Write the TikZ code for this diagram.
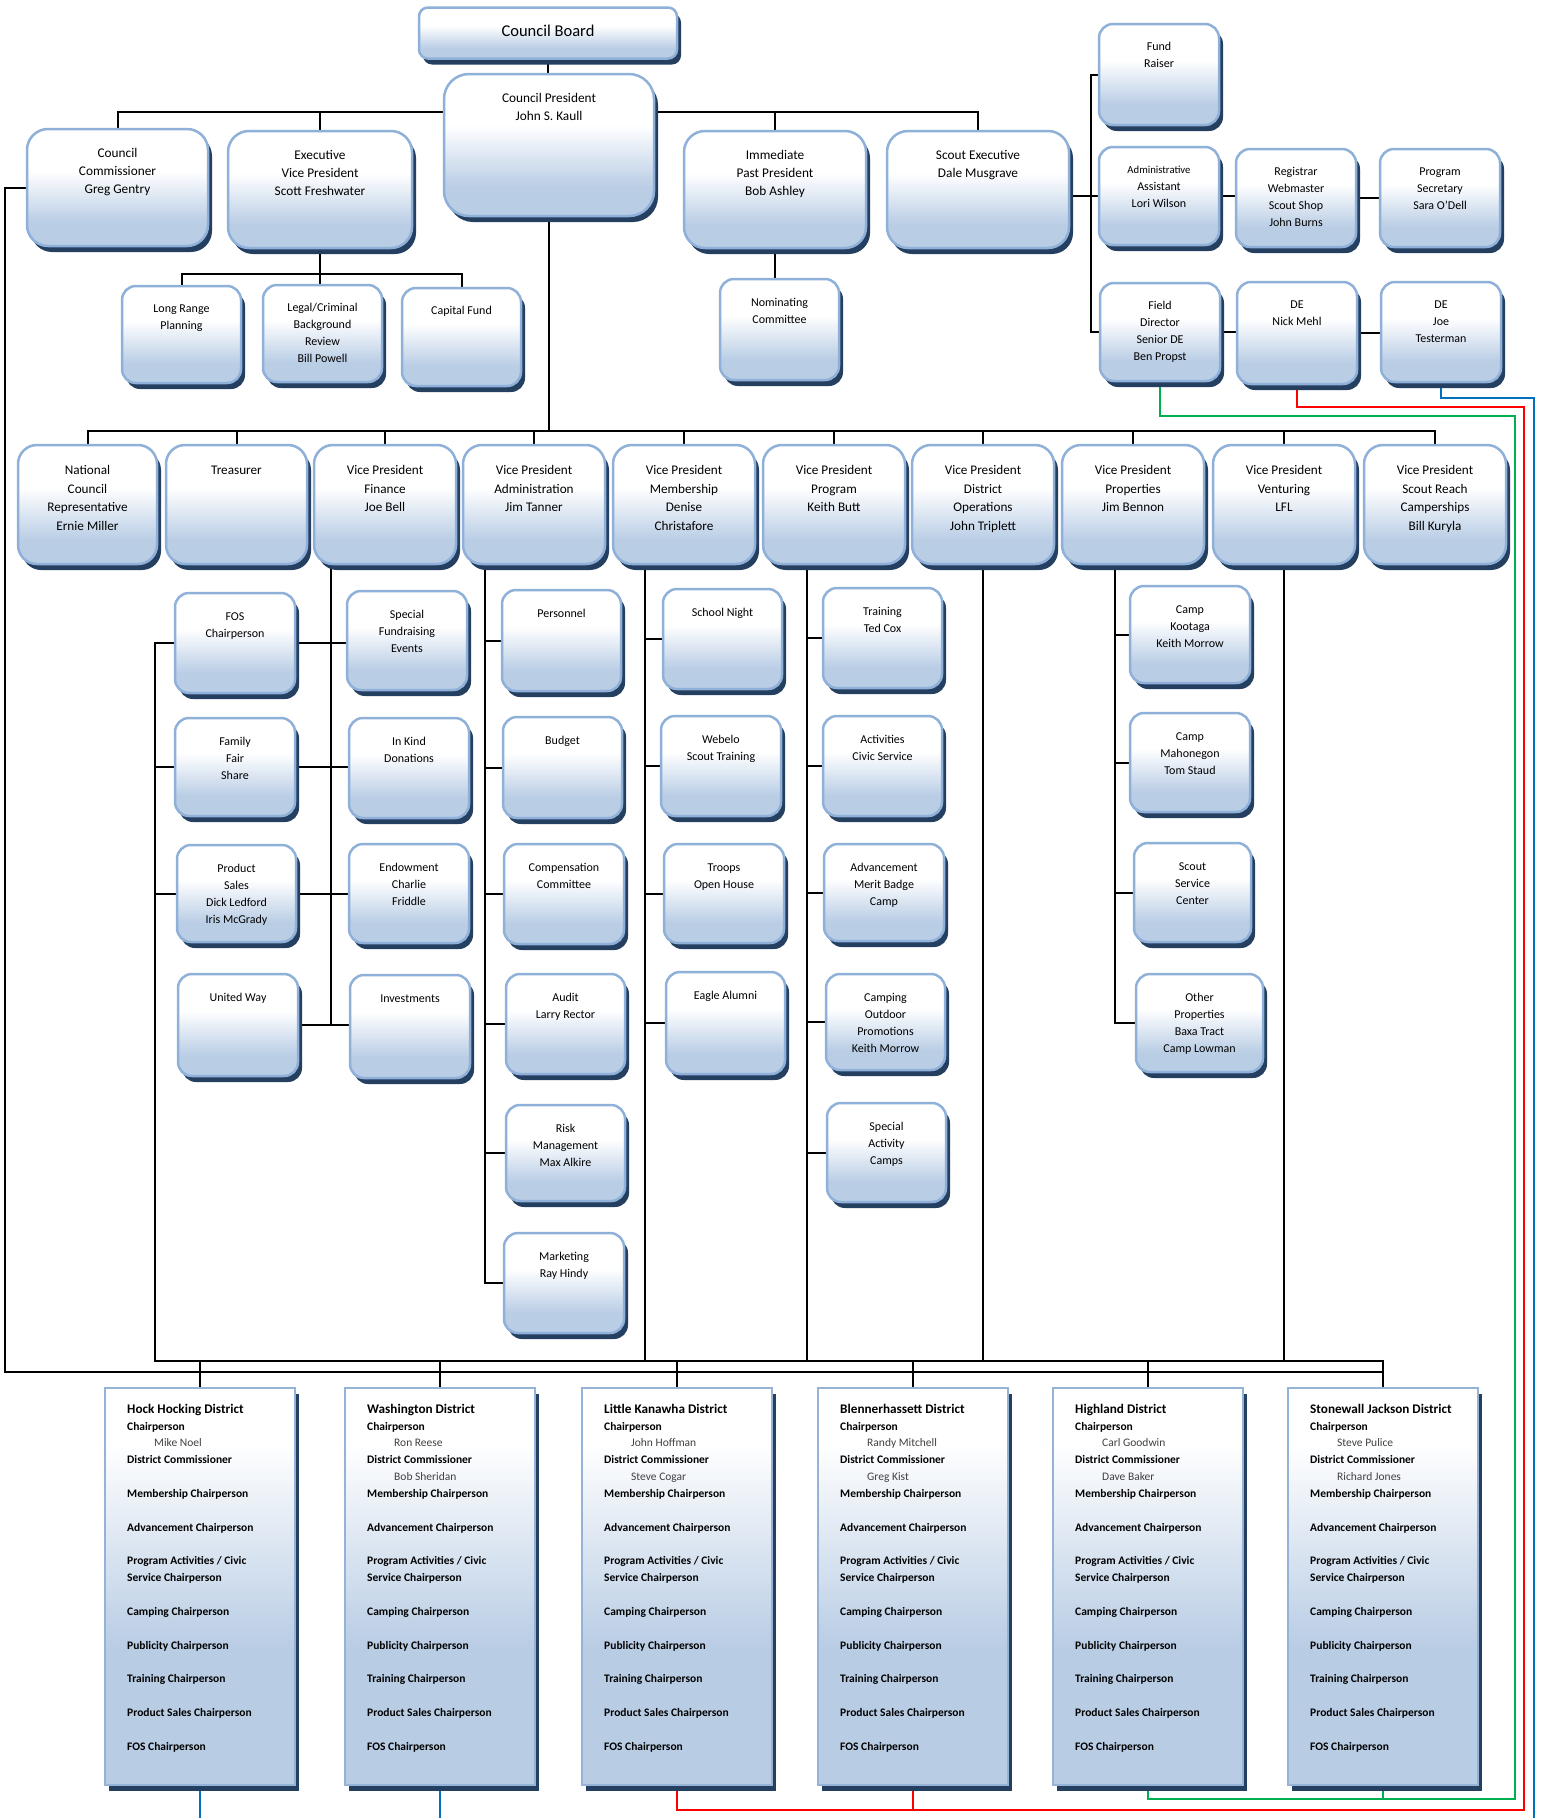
\documentclass[tikz,border=0pt]{standalone}
\usepackage{fontspec}
\setmainfont{Carlito}
\usetikzlibrary{shadows}
\pgfdeclarelayer{bg}
\pgfsetlayers{bg,main}
\definecolor{bordc}{HTML}{8FB0D9}
\definecolor{fillb}{HTML}{B9CDE5}
\definecolor{shadc}{HTML}{243F60}
\definecolor{dfill}{HTML}{B8CCE4}
\definecolor{dbord}{HTML}{95B3D7}
\definecolor{gcol}{HTML}{00B050}
\definecolor{rcol}{HTML}{FF0000}
\definecolor{bcol}{HTML}{0070C0}
\definecolor{namec}{HTML}{404040}
\pgfdeclareverticalshading{obshade}{100bp}{color(0bp)=(fillb); color(35bp)=(fillb); color(57bp)=(white); color(100bp)=(white)}
\pgfdeclareverticalshading{dshade}{100bp}{color(0bp)=(dfill); color(42bp)=(dfill); color(68bp)=(white); color(100bp)=(white)}
\tikzset{
  obox/.style={draw=bordc, line width=2.5pt, rounded corners=14pt, shading=obshade, inner sep=0pt, outer sep=0pt,
    drop shadow={shadow xshift=4pt, shadow yshift=-6pt, fill=shadc, opacity=1}},
  bigbox/.style={rounded corners=21pt},
  vpbox/.style={rounded corners=19pt},
  dbox/.style={draw=dbord, line width=2.5pt, shading=dshade, inner sep=0pt, outer sep=0pt,
    minimum width=190pt, minimum height=397pt,
    drop shadow={shadow xshift=4pt, shadow yshift=-6pt, fill=shadc, opacity=1}},
  otext/.style={anchor=north, align=center, inner sep=0pt, yshift=-15.1pt, font=\fontsize{12}{17}\selectfont},
  rtext/.style={otext, yshift=1pt},
  vtext/.style={anchor=north, align=center, inner sep=0pt, yshift=-16.55pt, font=\fontsize{13.2}{18.5}\selectfont},
  ttext/.style={anchor=north, align=center, inner sep=0pt, yshift=-15.9pt, font=\fontsize{13.3}{18}\selectfont},
  dtext/.style={anchor=north west, align=left, inner sep=0pt, yshift=-13.2pt, font=\fontsize{11.5}{16.85}\selectfont\bfseries},
  conn/.style={line width=2pt, black},
  glstyle/.style={line width=1.6pt, gcol},
  rlstyle/.style={line width=1.6pt, rcol},
  blstyle/.style={line width=1.6pt, bcol}
}
\newcommand{\ob}[8][]{%
  \node[obox,#1,minimum width={(#5-#3-2)*1pt},minimum height={(#6-#4-4)*1pt}] (#2) at ({(#3+#5-2)/2},{(#4+#6-4)/2}) {};
  \node[#7] (#2t) at ({(#3+#5-2)/2},#4) {\strut #8};
}
\newcommand{\nm}[1]{\hspace*{27pt}{\mdseries\color{namec}#1}}
\newcommand{\dist}[5]{%
  \node[dbox] (#1) at ({#2+95},1586.5) {};
  \node[dtext] (#1t) at ({#2+22},1388) {\strut{\fontsize{13.2}{16.85}\selectfont #3}\\Chairperson\\\nm{#4}\\District Commissioner\\\nm{#5}\\Membership Chairperson\\[16.85pt]Advancement Chairperson\\[16.85pt]Program Activities / Civic\\Service Chairperson\\[16.85pt]Camping Chairperson\\[16.85pt]Publicity Chairperson\\[16.85pt]Training Chairperson\\[16.85pt]Product Sales Chairperson\\[16.85pt]FOS Chairperson};
}
\begin{document}
\begin{tikzpicture}[x=1pt,y=-1pt]
\useasboundingbox (0,0) rectangle (1543,1818);
% top
\node[obox, rounded corners=9pt, minimum width=258pt, minimum height=51pt] (cb) at (548,33) {};
\node[anchor=base, inner sep=0pt, font=\fontsize{16.5}{20}\selectfont] (cbt) at (548,36) {Council Board};
\ob[rounded corners=25pt]{cp}{444}{74}{656}{220}{ttext}{Council President\\John S. Kaull}
\ob[bigbox]{cc}{27}{129}{210}{250}{ttext}{Council\\Commissioner\\Greg Gentry}
\ob[bigbox]{evp}{228}{131}{414}{252}{ttext}{Executive\\Vice President\\Scott Freshwater}
\ob[bigbox]{ipp}{684}{131}{868}{252}{ttext}{Immediate\\Past President\\Bob Ashley}
\ob[bigbox]{sx}{887}{131}{1071}{252}{ttext}{Scout Executive\\Dale Musgrave}
\ob{lrp}{122}{286}{243}{387}{rtext}{Long Range\\Planning}
\ob{lcb}{263}{285}{384}{386}{rtext}{Legal/Criminal\\Background\\Review\\Bill Powell}
\ob{cap}{402}{288}{523}{390}{rtext}{Capital Fund}
\ob{nom}{720}{279}{841}{384}{otext}{Nominating\\Committee}
% right cluster
\ob{fr}{1099}{24}{1221}{129}{rtext}{Fund\\Raiser}
\ob{aa}{1099}{147}{1221}{249}{rtext}{{\fontsize{10.7}{17}\selectfont Administrative}\\Assistant\\Lori Wilson}
\ob{reg}{1236}{149}{1358}{251}{rtext}{Registrar\\Webmaster\\Scout Shop\\John Burns}
\ob{psec}{1380}{149}{1502}{251}{rtext}{Program\\Secretary\\Sara O’Dell}
\ob{fd}{1100}{283}{1222}{385}{rtext}{Field\\Director\\Senior DE\\Ben Propst}
\ob{den}{1237}{282}{1359}{388}{rtext}{DE\\Nick Mehl}
\ob{dej}{1381}{282}{1503}{386}{rtext}{DE\\Joe\\Testerman}
% VP row
\ob[vpbox]{ncr}{18}{445}{159}{568}{vtext}{National\\Council\\Representative\\Ernie Miller}
\ob[vpbox]{trs}{166}{445}{309}{568}{vtext}{Treasurer}
\ob[vpbox]{vpf}{314}{445}{458}{568}{vtext}{Vice President\\Finance\\Joe Bell}
\ob[vpbox]{vpa}{463}{445}{607}{568}{vtext}{Vice President\\Administration\\Jim Tanner}
\ob[vpbox]{vpm}{613}{445}{757}{568}{vtext}{Vice President\\Membership\\Denise\\Christafore}
\ob[vpbox]{vpp}{763}{445}{907}{568}{vtext}{Vice President\\Program\\Keith Butt}
\ob[vpbox]{vpd}{912}{445}{1056}{568}{vtext}{Vice President\\District\\Operations\\John Triplett}
\ob[vpbox]{vpr}{1062}{445}{1206}{568}{vtext}{Vice President\\Properties\\Jim Bennon}
\ob[vpbox]{vpv}{1213}{445}{1357}{568}{vtext}{Vice President\\Venturing\\LFL}
\ob[vpbox]{vsr}{1364}{445}{1508}{568}{vtext}{Vice President\\Scout Reach\\Camperships\\Bill Kuryla}
% finance
\ob{fos}{175}{593}{297}{697}{otext}{FOS\\Chairperson}
\ob{ffs}{175}{718}{297}{820}{otext}{Family\\Fair\\Share}
\ob{pss}{177}{845}{298}{946}{otext}{Product\\Sales\\Dick Ledford\\Iris McGrady}
\ob{uw}{178}{974}{300}{1080}{otext}{United Way}
\ob{sfe}{347}{591}{469}{694}{otext}{Special\\Fundraising\\Events}
\ob{ikd}{349}{718}{471}{822}{otext}{In Kind\\Donations}
\ob{endw}{349}{844}{471}{947}{otext}{Endowment\\Charlie\\Friddle}
\ob{inv}{350}{975}{472}{1082}{otext}{Investments}
% admin
\ob{per}{502}{590}{623}{695}{otext}{Personnel}
\ob{bud}{503}{717}{624}{822}{otext}{Budget}
\ob{cmp}{504}{844}{626}{948}{otext}{Compensation\\Committee}
\ob{aud}{506}{974}{627}{1078}{otext}{Audit\\Larry Rector}
\ob{rsk}{506}{1105}{627}{1205}{otext}{Risk\\Management\\Max Alkire}
\ob{mkt}{504}{1233}{626}{1337}{otext}{Marketing\\Ray Hindy}
% membership
\ob{sn}{663}{589}{784}{693}{otext}{School Night}
\ob{web}{661}{716}{783}{820}{otext}{Webelo\\Scout Training}
\ob{toh}{664}{844}{786}{947}{otext}{Troops\\Open House}
\ob{ea}{666}{972}{787}{1078}{otext}{Eagle Alumni}
% program
\ob{trn}{823}{588}{944}{692}{otext}{Training\\Ted Cox}
\ob{act}{823}{716}{944}{820}{otext}{Activities\\Civic Service}
\ob{adv}{824}{844}{946}{945}{otext}{Advancement\\Merit Badge\\Camp}
\ob{cop}{826}{974}{947}{1074}{otext}{Camping\\Outdoor\\Promotions\\Keith Morrow}
\ob{sac}{827}{1103}{948}{1206}{otext}{Special\\Activity\\Camps}
% properties
\ob{kot}{1130}{586}{1252}{687}{otext}{Camp\\Kootaga\\Keith Morrow}
\ob{mah}{1130}{713}{1252}{816}{otext}{Camp\\Mahonegon\\Tom Staud}
\ob{ssc}{1134}{843}{1253}{946}{otext}{Scout\\Service\\Center}
\ob{op}{1136}{974}{1265}{1076}{otext}{Other\\Properties\\Baxa Tract\\Camp Lowman}
% districts
\dist{hh}{105}{Hock Hocking District}{Mike Noel}{}
\dist{wa}{345}{Washington District}{Ron Reese}{Bob Sheridan}
\dist{lk}{582}{Little Kanawha District}{John Hoffman}{Steve Cogar}
\dist{bl}{818}{Blennerhassett District}{Randy Mitchell}{Greg Kist}
\dist{hl}{1053}{Highland District}{Carl Goodwin}{Dave Baker}
\dist{sj}{1288}{Stonewall Jackson District}{Steve Pulice}{Richard Jones}
% connectors
\begin{pgfonlayer}{bg}
\fill[white] (0,0) rectangle (1543,1818);
\coordinate (topbus) at (0,112);
\draw[conn] (cb.south) -- (cb.south |- cp.north);
\draw[conn] (cc.north) |- (topbus -| sx.north) -- (sx.north);
\draw[conn] (evp.north) -- (evp.north |- topbus);
\draw[conn] (ipp.north) -- (ipp.north |- topbus);
\coordinate (evbus) at (0,274);
\draw[conn] (evp.south) -- (evp.south |- lcb.north);
\draw[conn] (lrp.north) |- (evbus -| cap.north) -- (cap.north);
\draw[conn] (ipp.south) -- (ipp.south |- nom.north);
\coordinate (rsp) at (1091,0);
\draw[conn] (fr.west) -- (fr.west -| rsp) -- (rsp |- fd.west) -- (fd.west);
\draw[conn] (sx.east |- aa.west) -- (aa.west);
\draw[conn] (aa.east) -- (aa.east -| reg.west);
\draw[conn] (reg.east) -- (reg.east -| psec.west);
\draw[conn] (fd.east) -- (fd.east -| den.west);
\draw[conn] (den.east) -- (den.east -| dej.west);
\coordinate (mbus) at (0,431);
\draw[conn] (cp.south) -- (cp.south |- mbus);
\draw[conn] (ncr.north) |- (mbus -| vsr.north) -- (vsr.north);
\foreach \nn in {trs,vpf,vpa,vpm,vpp,vpd,vpr,vpv} \draw[conn] (\nn.north) -- (\nn.north |- mbus);
\coordinate (ubus) at (0,1361);
\coordinate (lbus) at (0,1372);
\coordinate (spL) at (155,0);
\coordinate (spF) at (331,0);
\coordinate (spA) at (485,0);
\coordinate (spM) at (645,0);
\coordinate (spP) at (807,0);
\coordinate (spR) at (1115,0);
\coordinate (spC) at (5,0);
\draw[conn] (vpf.south -| spF) -- (spF |- uw.east);
\foreach \aa/\bb in {fos/sfe,ffs/ikd,pss/endw,uw/inv} \draw[conn] (\aa.east) -- (\aa.east -| \bb.west);
\draw[conn] (fos.west) -- (fos.west -| spL) -- (spL |- ubus) -- (ubus -| sj.north) -- (sj.north);
\draw[conn] (ffs.west) -- (ffs.west -| spL);
\draw[conn] (pss.west) -- (pss.west -| spL);
\draw[conn] (vpa.south -| spA) -- (spA |- mkt.west) -- (mkt.west);
\foreach \bb in {per,bud,cmp,aud,rsk} \draw[conn] (\bb.west) -- (\bb.west -| spA);
\draw[conn] (vpm.south -| spM) -- (spM |- ubus);
\foreach \bb in {sn,web,toh,ea} \draw[conn] (\bb.west) -- (\bb.west -| spM);
\draw[conn] (vpp.south -| spP) -- (spP |- ubus);
\foreach \bb in {trn,act,adv,cop,sac} \draw[conn] (\bb.west) -- (\bb.west -| spP);
\draw[conn] (vpd.south) -- (vpd.south |- ubus);
\draw[conn] (vpr.south -| spR) -- (spR |- op.west) -- (op.west);
\foreach \bb in {kot,mah,ssc} \draw[conn] (\bb.west) -- (\bb.west -| spR);
\draw[conn] (vpv.south) -- (vpv.south |- ubus);
\draw[conn] (cc.west) -- (cc.west -| spC) -- (spC |- lbus) -- (lbus -| sj.north);
\foreach \nn in {hh,wa,lk,bl,hl} \draw[conn] (\nn.north) -- (\nn.north |- ubus);
\coordinate (gc) at (1515,416); \coordinate (gb) at (1515,1799);
\draw[glstyle] (fd.south) |- (gc) -- (gb) -| (hl.south);
\draw[glstyle] (sj.south) -- (sj.south |- gb);
\coordinate (rc) at (1524,407); \coordinate (rb) at (1524,1810);
\draw[rlstyle] (den.south) |- (rc) -- (rb) -| (lk.south);
\draw[rlstyle] (bl.south) -- (bl.south |- rb);
\coordinate (bc) at (1534,398); \coordinate (bb) at (1534,1818);
\draw[blstyle] (dej.south) |- (bc) -- (bb);
\draw[blstyle] (hh.south) -- (hh.south |- bb);
\draw[blstyle] (wa.south) -- (wa.south |- bb);
\end{pgfonlayer}
\end{tikzpicture}
\end{document}
